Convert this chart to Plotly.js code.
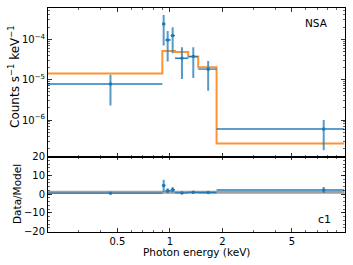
<!DOCTYPE html>
<html>
<head>
<meta charset="utf-8">
<script src="https://cdn.plot.ly/plotly-3.0.1.min.js"></script>
<style>html,body{margin:0;padding:0;background:#fff}#c{width:353px;height:265px}</style>
</head>
<body>
<div id="c"></div>
<script>
// Bin edges (keV), bin centres, counts and errors
var binLo  = [0.2, 0.904, 0.94, 1.009, 1.068, 1.272, 1.451, 1.849];
var binHi  = [0.904, 0.94, 1.009, 1.068, 1.272, 1.451, 1.849, 10];
var energy = [0.456, 0.92, 0.97, 1.036, 1.171, 1.36, 1.655, 7.6];
var counts = [7.8e-6, 2.39e-4, 9.6e-5, 1.23e-4, 3.39e-5, 3.72e-5, 1.82e-5, 6.0e-7];
var upper  = [1.33e-5, 3.98e-4, 1.6e-4, 1.98e-4, 6.3e-5, 6.3e-5, 2.9e-5, 1.0e-6];
var lower  = [2.3e-6, 6.95e-5, 2.8e-5, 4.5e-5, 1.04e-5, 1.1e-5, 5.35e-6, 1.8e-7];
var model  = [1.42e-5, 5.14e-5, 5.14e-5, 5.14e-5, 4.85e-5, 3.72e-5, 2.04e-5, 2.65e-7];
var xTickVals = [0.5, 1, 2, 5];
var xTickText = ['0.5', '1', '2', '5'];
var xMinorVals = [0.3, 0.4, 0.6, 0.7, 0.8, 0.9, 3, 4, 6, 7, 8, 9];
var yTickVals = [1e-6, 1e-5, 1e-4];
var yTickText = ['10<sup>\u22126</sup>', '10<sup>\u22125</sup>', '10<sup>\u22124</sup>'];
var rTickVals = [-20, -10, 0, 10, 20];
var rTickText = ['\u221220', '\u221210', '0', '10', '20'];

var blue = '#1f77b4', orange = 'rgba(255,127,14,0.85)';
var W = 353, H = 265;
var xL = 48 / W, xR = 344.5 / W;
var topT = 1 - 8.3 / H, mid = 1 - 156.7 / H, botB = 1 - 231.7 / H;

var stepX = binLo.concat([binHi[binHi.length - 1]]);
var stepY = model.concat([model[model.length - 1]]);

var errXp = binHi.map(function (v, i) { return v - energy[i]; });
var errXm = energy.map(function (v, i) { return v - binLo[i]; });
var errYp = upper.map(function (v, i) { return v - counts[i]; });
var errYm = counts.map(function (v, i) { return v - lower[i]; });

var ratio = counts.map(function (v, i) { return v / model[i]; });
var rErrP = errYp.map(function (v, i) { return v / model[i]; });
var rErrM = errYm.map(function (v, i) { return v / model[i]; });

var yMinor = [];
[-7, -6, -5, -4].forEach(function (e) {
  for (var k = 2; k <= 9; k++) yMinor.push(k * Math.pow(10, e));
});

var traces = [
  {x: stepX, y: stepY, xaxis: 'x2', yaxis: 'y2', mode: 'lines',
   line: {shape: 'hv', color: orange, width: 2}, hoverinfo: 'none'},
  {x: energy, y: counts, xaxis: 'x2', yaxis: 'y2', mode: 'markers',
   marker: {color: blue, size: 3.5},
   error_x: {type: 'data', symmetric: false, array: errXp, arrayminus: errXm,
             color: 'rgba(31,119,180,0.95)', thickness: 1.4, width: 0},
   error_y: {type: 'data', symmetric: false, array: errYp, arrayminus: errYm,
             color: 'rgba(31,119,180,0.75)', thickness: 2, width: 0}},
  {x: energy, y: ratio, xaxis: 'x', yaxis: 'y', mode: 'markers',
   marker: {color: blue, size: 3.5},
   error_x: {type: 'data', symmetric: false, array: errXp, arrayminus: errXm,
             color: 'rgba(31,119,180,0.95)', thickness: 1.4, width: 0},
   error_y: {type: 'data', symmetric: false, array: rErrP, arrayminus: rErrM,
             color: 'rgba(31,119,180,0.75)', thickness: 2, width: 0}}
];

var fnt = {family: 'DejaVu Sans', size: 10, color: '#000'};
var axCommon = {showline: true, linecolor: '#000', linewidth: 1, mirror: 'ticks',
  ticks: 'inside', ticklen: 3.5, tickwidth: 0.8, tickcolor: '#000',
  showgrid: false, zeroline: false, tickfont: fnt, automargin: false};
var minorStyle = {ticks: 'inside', ticklen: 2, tickcolor: '#000', tickwidth: 0.6};

var layout = {
  width: W, height: H, margin: {l: 0, r: 0, t: 0, b: 0},
  paper_bgcolor: '#fff', plot_bgcolor: '#fff', showlegend: false,
  font: fnt,
  xaxis: Object.assign({}, axCommon, {type: 'log', domain: [xL, xR], anchor: 'y',
    range: [Math.log10(0.2), 1], tickmode: 'array', tickvals: xTickVals, ticktext: xTickText,
    minor: Object.assign({tickmode: 'array', tickvals: xMinorVals}, minorStyle)}),
  xaxis2: Object.assign({}, axCommon, {type: 'log', domain: [xL, xR], anchor: 'y2',
    matches: 'x', range: [Math.log10(0.2), 1], tickmode: 'array', tickvals: xTickVals,
    showticklabels: false,
    minor: Object.assign({tickmode: 'array', tickvals: xMinorVals}, minorStyle)}),
  yaxis: Object.assign({}, axCommon, {domain: [botB, mid], anchor: 'x', range: [-20, 20],
    tickmode: 'array', tickvals: rTickVals, ticktext: rTickText,
    minor: Object.assign({dtick: 2, tick0: 0}, minorStyle)}),
  yaxis2: Object.assign({}, axCommon, {type: 'log', domain: [mid, topT], anchor: 'x2',
    range: [-6.906, -3.235], tickmode: 'array', tickvals: yTickVals, ticktext: yTickText,
    minor: Object.assign({tickmode: 'array', tickvals: yMinor}, minorStyle)}),
  shapes: [{type: 'line', xref: 'paper', yref: 'y', x0: xL, x1: xR, y0: 1, y1: 1,
    line: {color: 'rgba(128,128,128,0.75)', width: 3}, layer: 'below'}],
  annotations: [
    {text: 'Counts s<sup>\u22121</sup> keV<sup>\u22121</sup>', xref: 'paper', yref: 'paper',
     x: 14 / W, y: 1 - 77 / H, xanchor: 'center', yanchor: 'middle', textangle: -90,
     showarrow: false, font: {family: 'DejaVu Sans', size: 12}},
    {text: 'Data/Model', xref: 'paper', yref: 'paper', x: 17 / W, y: 1 - 194 / H,
     xanchor: 'center', yanchor: 'middle', textangle: -90,
     showarrow: false, font: {family: 'DejaVu Sans', size: 10.5}},
    {text: 'Photon energy (keV)', xref: 'paper', yref: 'paper', x: 196 / W, y: 1 - 251.5 / H,
     xanchor: 'center', yanchor: 'middle',
     showarrow: false, font: {family: 'DejaVu Sans', size: 10.5}},
    {text: 'NSA', xref: 'paper', yref: 'paper', x: 316 / W, y: 1 - 23 / H,
     xanchor: 'center', yanchor: 'middle',
     showarrow: false, font: {family: 'DejaVu Sans', size: 10.5}},
    {text: 'c1', xref: 'paper', yref: 'paper', x: 324 / W, y: 1 - 219 / H,
     xanchor: 'center', yanchor: 'middle',
     showarrow: false, font: {family: 'DejaVu Sans', size: 11}}
  ]
};

Plotly.newPlot('c', traces, layout, {staticPlot: true, displayModeBar: false});
</script>
</body>
</html>
